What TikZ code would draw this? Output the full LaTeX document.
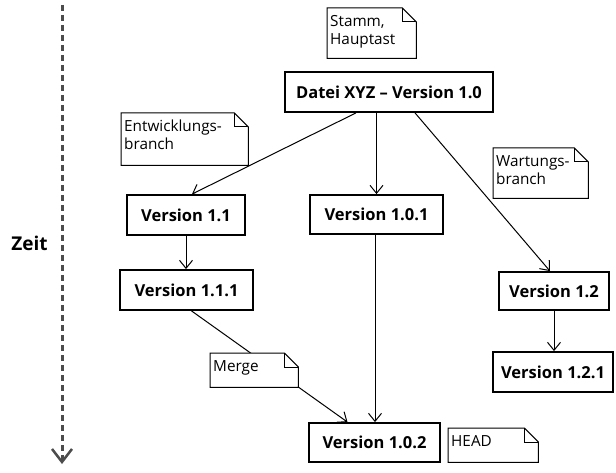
\documentclass[tikz,border=0pt]{standalone}
\usepackage{fontspec}
\setmainfont{Open Sans}
\usetikzlibrary{arrows.meta}
\pgfdeclarelayer{background}
\pgfsetlayers{background,main}

% text block of a note: width, height, contents (top aligned)
\newcommand\notetxt[3]{\parbox[t][#2][t]{#1}{\raggedright #3}}

\tikzset{
  version/.style={draw=black, line width=1.8pt, fill=white, inner sep=0pt,
    font=\fontsize{16.5}{19}\selectfont\bfseries},
  % note with a folded corner; the outline is filled before the text is set
  notebox/.style={anchor=north west, inner xsep=3pt, inner ysep=7pt,
    font=\fontsize{15.3}{18}\selectfont,
    append after command={\pgfextra{\let\thisnote\tikzlastnode
      \draw[line width=1pt, line join=miter, fill=white]
        (\thisnote.south west) -- (\thisnote.north west)
        -- ([xshift=-14pt]\thisnote.north east)
        -- ([yshift=-14pt]\thisnote.north east)
        -- (\thisnote.south east) -- cycle;
      \draw[line width=1pt]
        ([xshift=-14pt]\thisnote.north east) |- ([yshift=-14pt]\thisnote.north east);}}},
  flow/.style={line width=1pt, -{Straight Barb[length=8pt,width=13pt]}},
  timeline/.style={line width=3pt, draw=black!70, dash pattern=on 6pt off 4pt,
    -{Straight Barb[length=13pt,width=20pt,line width=2.5pt]}},
  zeitlabel/.style={font=\fontsize{19}{21}\selectfont\bfseries}
}

\begin{document}
\begin{tikzpicture}[x=1pt,y=-1pt]
\useasboundingbox (0,0) rectangle (616,473);

% time axis
\coordinate (ztop) at (62,5);
\coordinate (zbot) at (62,464);
\node[zeitlabel] (zeit) at (29.5,243) {Zeit};

% versions
\node[version, minimum width=208pt, minimum height=40pt] (datei) at (389,92) {Datei XYZ – Version 1.0};
\node[version, minimum width=118pt, minimum height=40pt] (v11)  at (186,215) {Version 1.1};
\node[version, minimum width=133pt, minimum height=39pt] (v101) at (376.5,214.5) {Version 1.0.1};
\node[version, minimum width=133pt, minimum height=40pt] (v111) at (186.5,290) {Version 1.1.1};
\node[version, minimum width=110pt, minimum height=38pt] (v12)  at (554,291) {Version 1.2};
\node[version, minimum width=120pt, minimum height=40pt] (v121) at (553,372) {Version 1.2.1};
\node[version, minimum width=131pt, minimum height=39pt] (v102) at (374.5,442.5) {Version 1.0.2};

% notes
\node[notebox] (stamm) at (327,8)   {\notetxt{83pt}{36pt}{Stamm,\\Hauptast}};
\node[notebox] (entw)  at (121,113) {\notetxt{121pt}{38pt}{Entwicklungs-\\branch}};
\node[notebox] (wart)  at (493,148) {\notetxt{89pt}{36pt}{Wartungs-\\branch}};
\node[notebox] (merge) at (210,353) {\notetxt{82pt}{20pt}{Merge}};
\node[notebox] (head)  at (448,428) {\notetxt{84pt}{20pt}{HEAD}};

\begin{pgfonlayer}{background}
  \fill[white] (0,0) rectangle (616,473);
  \draw[timeline] (ztop) -- (zbot);
  \draw[flow] ([xshift=-33pt]datei.south) -- ([xshift=6pt]v11.north);
  \draw[flow] (datei.south -| v101.north) -- (v101.north);
  \draw[flow] ([xshift=26pt]datei.south) -- ([xshift=-4pt]v12.north);
  \draw[flow] (v11.south) -- (v11.south |- v111.north);
  \draw[flow] ([xshift=-1.5pt]v101.south) -- ([xshift=-1.5pt]v101.south |- v102.north);
  \draw[flow] ([xshift=5pt]v111.south) -- ([xshift=-27pt]v102.north);
  \draw[flow] (v12.south) -- (v12.south |- v121.north);
\end{pgfonlayer}
\end{tikzpicture}
\end{document}
